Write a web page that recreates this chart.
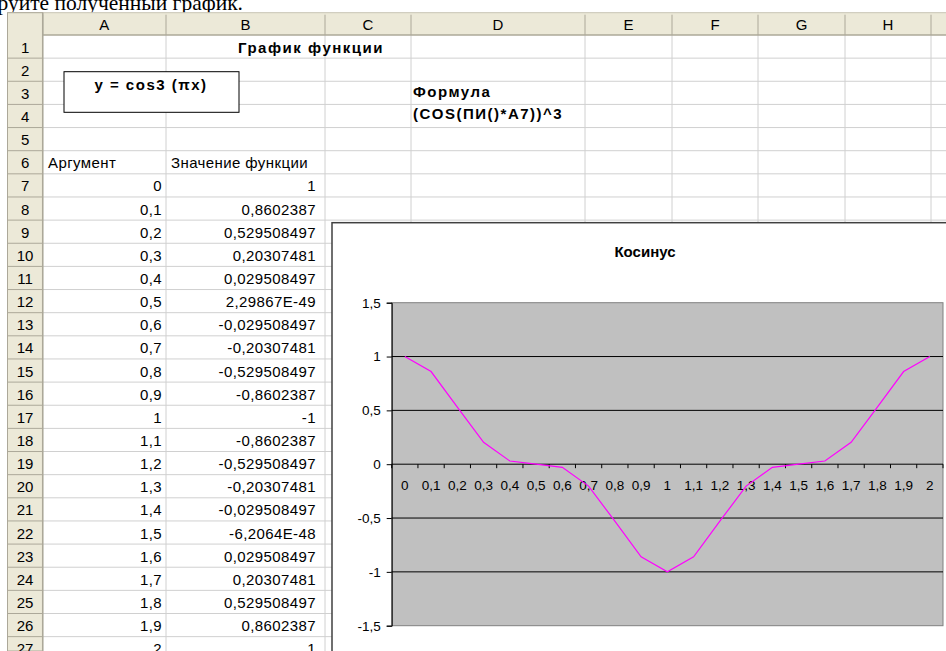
<!DOCTYPE html>
<html lang="ru">
<head>
<meta charset="utf-8">
<title>График функции</title>
<script src="https://cdn.jsdelivr.net/npm/d3@7"></script>
<style>
  body { margin: 0; background: #fff; overflow: hidden; }
  svg { display: block; }
  .cell { font-family: "Liberation Sans", Arial, sans-serif; font-size: 15px; fill: #000; letter-spacing: 0.4px; }
  .bold { font-weight: bold; letter-spacing: 1.5px; }
  .hdr { font-family: "Liberation Sans", Arial, sans-serif; font-size: 15px; fill: #000; }
  .axis text { font-family: "Liberation Sans", Arial, sans-serif; font-size: 13.5px; fill: #000; }
</style>
</head>
<body>
<div id="container"></div>
<script>
// spreadsheet content
const columnLetters = ["A", "B", "C", "D", "E", "F", "G", "H", ""];
const argumentLabels = ["0", "0,1", "0,2", "0,3", "0,4", "0,5", "0,6", "0,7", "0,8", "0,9", "1",
  "1,1", "1,2", "1,3", "1,4", "1,5", "1,6", "1,7", "1,8", "1,9", "2"];
const valueLabels = ["1", "0,8602387", "0,529508497", "0,20307481", "0,029508497", "2,29867E-49",
  "-0,029508497", "-0,20307481", "-0,529508497", "-0,8602387", "-1", "-0,8602387",
  "-0,529508497", "-0,20307481", "-0,029508497", "-6,2064E-48", "0,029508497",
  "0,20307481", "0,529508497", "0,8602387", "1"];
const yTicks = [1.5, 1, 0.5, 0, -0.5, -1, -1.5];
const gridValues = [1, 0.5, -0.5, -1];

document.addEventListener("DOMContentLoaded", function () {
  const w = 946;
  const h = 651;

  const colEdges = [7.5, 42.7, 166, 325, 411, 585, 672, 758, 845, 931, 1020];
  const headTop = 12.7;
  const headBottom = 35;
  const rowH = 23.14;
  const nRows = 28;
  const rowTop = (r) => headBottom + (r - 1) * rowH;
  const rowBase = (r) => rowTop(r) + rowH - 5.5;

  const toNum = (s) => parseFloat(s.replace(",", "."));
  const values = valueLabels.map(toNum);

  const svg = d3
    .select("#container")
    .append("svg")
    .attr("width", w)
    .attr("height", h);

  // page text cut at the top
  svg
    .append("text")
    .attr("x", 243)
    .attr("y", 10)
    .attr("text-anchor", "end")
    .style("font-family", "'Liberation Serif', 'Times New Roman', serif")
    .style("font-size", "21.5px")
    .text("Отформатируйте полученный график.");

  // grid lines
  const grid = svg.append("g");
  for (let r = 1; r <= nRows; r++) {
    grid
      .append("line")
      .attr("x1", colEdges[1])
      .attr("x2", w)
      .attr("y1", rowTop(r) + rowH)
      .attr("y2", rowTop(r) + rowH)
      .attr("stroke", "#d0d0d0");
  }
  colEdges.slice(2).forEach((x) => {
    grid
      .append("line")
      .attr("x1", x)
      .attr("x2", x)
      .attr("y1", headBottom)
      .attr("y2", h)
      .attr("stroke", "#d0d0d0");
  });

  // column header
  svg
    .append("rect")
    .attr("x", colEdges[0])
    .attr("y", headTop)
    .attr("width", w - colEdges[0])
    .attr("height", headBottom - headTop)
    .attr("fill", "#ece9d8");
  svg
    .append("line")
    .attr("x1", colEdges[0])
    .attr("x2", w)
    .attr("y1", headTop)
    .attr("y2", headTop)
    .attr("stroke", "#c8c4b4");
  svg
    .append("line")
    .attr("x1", colEdges[0])
    .attr("x2", w)
    .attr("y1", headBottom)
    .attr("y2", headBottom)
    .attr("stroke", "#aca899")
    .attr("stroke-width", 1.5);
  colEdges.slice(1).forEach((x) => {
    svg
      .append("line")
      .attr("x1", x)
      .attr("x2", x)
      .attr("y1", headTop + 2)
      .attr("y2", headBottom)
      .attr("stroke", "#aca899");
  });
  columnLetters.forEach((c, i) => {
    svg
      .append("text")
      .attr("class", "hdr")
      .attr("x", (colEdges[i + 1] + colEdges[i + 2]) / 2)
      .attr("y", 29.5)
      .attr("text-anchor", "middle")
      .text(c);
  });

  // row header
  svg
    .append("rect")
    .attr("x", colEdges[0])
    .attr("y", headTop)
    .attr("width", colEdges[1] - colEdges[0])
    .attr("height", h - headTop)
    .attr("fill", "#ece9d8")
    .attr("stroke", "#aca899");
  for (let r = 1; r <= nRows; r++) {
    svg
      .append("line")
      .attr("x1", colEdges[0])
      .attr("x2", colEdges[1])
      .attr("y1", rowTop(r) + rowH)
      .attr("y2", rowTop(r) + rowH)
      .attr("stroke", "#aca899");
    svg
      .append("text")
      .attr("class", "hdr")
      .attr("x", (colEdges[0] + colEdges[1]) / 2)
      .attr("y", rowBase(r))
      .attr("text-anchor", "middle")
      .text(r);
  }
  svg
    .append("line")
    .attr("x1", colEdges[1])
    .attr("x2", colEdges[1])
    .attr("y1", headTop)
    .attr("y2", h)
    .attr("stroke", "#aca899")
    .attr("stroke-width", 1.5);

  // cells
  svg
    .append("text")
    .attr("class", "cell bold")
    .attr("x", 238)
    .attr("y", rowBase(1))
    .text("График функции");

  svg
    .append("rect")
    .attr("x", 64)
    .attr("y", 71.7)
    .attr("width", 175)
    .attr("height", 40.6)
    .attr("fill", "#fff")
    .attr("stroke", "#000");
  svg
    .append("text")
    .attr("class", "cell bold")
    .attr("x", 151)
    .attr("y", 89.5)
    .attr("text-anchor", "middle")
    .text("y = cos3 (πx)");

  svg
    .append("text")
    .attr("class", "cell bold")
    .attr("x", 413)
    .attr("y", 97)
    .text("Формула");
  svg
    .append("text")
    .attr("class", "cell bold")
    .attr("x", 413)
    .attr("y", 119)
    .text("(COS(ПИ()*A7))^3");

  svg
    .append("text")
    .attr("class", "cell")
    .attr("x", 48)
    .attr("y", rowBase(6))
    .text("Аргумент");
  svg
    .append("text")
    .attr("class", "cell")
    .attr("x", 171)
    .attr("y", rowBase(6))
    .text("Значение функции");

  svg
    .append("g")
    .selectAll("text")
    .data(argumentLabels)
    .enter()
    .append("text")
    .attr("class", "cell")
    .attr("x", 162)
    .attr("y", (d, i) => rowBase(7 + i))
    .attr("text-anchor", "end")
    .text((d) => d);

  svg
    .append("g")
    .selectAll("text")
    .data(valueLabels)
    .enter()
    .append("text")
    .attr("class", "cell")
    .attr("x", 316)
    .attr("y", (d, i) => rowBase(7 + i))
    .attr("text-anchor", "end")
    .text((d) => d);

  // chart object
  const chart = svg.append("g");
  chart
    .append("rect")
    .attr("x", 332)
    .attr("y", 222.7)
    .attr("width", 700)
    .attr("height", 500)
    .attr("fill", "#fff")
    .attr("stroke", "#404040")
    .attr("stroke-width", 1.5);

  chart
    .append("text")
    .attr("x", 645)
    .attr("y", 256.7)
    .attr("text-anchor", "middle")
    .style("font-family", "'Liberation Sans', Arial, sans-serif")
    .style("font-size", "15px")
    .style("font-weight", "bold")
    .text("Косинус");

  const plot = { left: 391.7, right: 943, top: 302.7, bottom: 625.7 };

  const xScale = d3
    .scaleBand()
    .domain(argumentLabels)
    .range([plot.left, plot.right])
    .padding(0);

  const yScale = d3
    .scaleLinear()
    .domain([-1.5, 1.5])
    .range([plot.bottom, plot.top]);

  chart
    .append("rect")
    .attr("x", plot.left)
    .attr("y", plot.top)
    .attr("width", plot.right - plot.left)
    .attr("height", plot.bottom - plot.top)
    .attr("fill", "#c0c0c0")
    .attr("stroke", "#808080");

  chart
    .append("g")
    .selectAll("line")
    .data(gridValues)
    .enter()
    .append("line")
    .attr("x1", plot.left)
    .attr("x2", plot.right)
    .attr("y1", (d) => yScale(d))
    .attr("y2", (d) => yScale(d))
    .attr("stroke", "#000");

  const yAxis = d3
    .axisLeft(yScale)
    .tickValues(yTicks)
    .tickSize(5)
    .tickPadding(6)
    .tickFormat((d) => String(d).replace(".", ","));

  const yG = chart
    .append("g")
    .attr("class", "axis")
    .attr("transform", `translate(${plot.left},0)`)
    .call(yAxis);
  yG.select(".domain").attr("stroke", "#000");

  // category axis: ticks between categories, line at y = 0
  const edges = argumentLabels.map((d) => xScale(d)).concat([plot.right]);
  const xG = chart.append("g").attr("class", "axis");
  xG.append("line")
    .attr("x1", plot.left)
    .attr("x2", plot.right)
    .attr("y1", yScale(0))
    .attr("y2", yScale(0))
    .attr("stroke", "#000");
  xG.selectAll(".tk")
    .data(edges)
    .enter()
    .append("line")
    .attr("class", "tk")
    .attr("x1", (d) => d)
    .attr("x2", (d) => d)
    .attr("y1", yScale(0))
    .attr("y2", yScale(0) + 4)
    .attr("stroke", "#000");
  xG.selectAll("text")
    .data(argumentLabels)
    .enter()
    .append("text")
    .attr("x", (d) => xScale(d) + xScale.bandwidth() / 2)
    .attr("y", yScale(0) + 26)
    .attr("text-anchor", "middle")
    .text((d) => d);

  const line = d3
    .line()
    .x((d, i) => xScale(argumentLabels[i]) + xScale.bandwidth() / 2)
    .y((d) => yScale(d));

  chart
    .append("path")
    .datum(values)
    .attr("d", line)
    .attr("fill", "none")
    .attr("stroke", "#ff00ff")
    .attr("stroke-width", 1.2);
});
</script>
</body>
</html>
